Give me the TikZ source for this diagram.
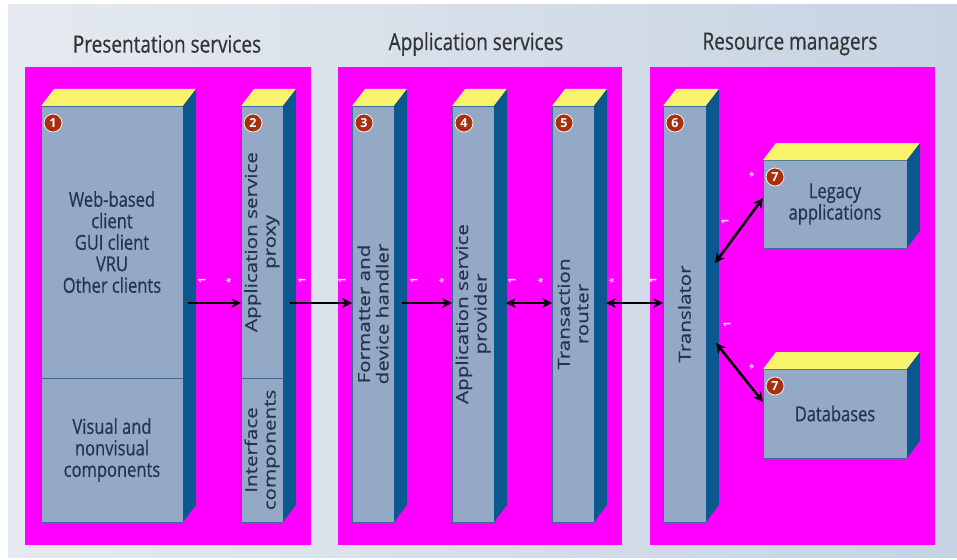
\documentclass[tikz,border=0pt]{standalone}
\usepackage{fontspec}
\setmainfont{Open Sans}
\newfontfamily\heavyfont{Open Sans}[FakeBold=0.5]
\usetikzlibrary{arrows.meta}
\usetikzlibrary{calc}
\usetikzlibrary{positioning}

\definecolor{panelpink}{HTML}{FF00FF}
\definecolor{faceblue}{HTML}{93A9C6}
\definecolor{sideblue}{HTML}{0B5891}
\definecolor{edgeblue}{HTML}{3B6A98}
\definecolor{topyellow}{HTML}{F7F46C}
\definecolor{badgered}{HTML}{A8300E}
\definecolor{labelgray}{HTML}{333333}
\definecolor{textslate}{HTML}{24344C}
\definecolor{multwhite}{HTML}{FFE6FF}
\definecolor{bgleft}{HTML}{E5EAF0}
\definecolor{bgright}{HTML}{C6D3E2}

\tikzset{
  face/.style={draw=edgeblue, fill=faceblue, line width=0.8pt, inner sep=0pt, outer sep=0pt, anchor=north west},
  topface/.style={fill=topyellow},
  sideface/.style={fill=sideblue},
  header/.style={text=labelgray, font=\heavyfont\fontsize{19}{22}\selectfont, yscale=1.25},
  boxtext/.style={text=textslate, align=center, font=\heavyfont\fontsize{16.5}{17.2}\selectfont, yscale=1.25},
  vtext/.style={text=textslate, align=center, font=\heavyfont\fontsize{16.5}{18.5}\selectfont, rotate=90, xscale=1.25},
  badge/.style={circle, fill=badgered, draw=white, line width=0.7pt, text=white, inner sep=0pt, minimum size=18pt, font=\bfseries\fontsize{12.5}{12.5}\selectfont},
  link/.style={line width=2.6pt, -{Stealth[length=10pt,width=10pt]}},
  twoway/.style={line width=2.6pt, {Stealth[length=10pt,width=10pt]}-{Stealth[length=10pt,width=10pt]}},
  mult/.style={text=multwhite, font=\bfseries\fontsize{10}{10}\selectfont, rotate=90, inner sep=0pt},
}

% top and side of a box whose front is #1 (upper part) and #2 (lower part)
\newcommand{\prism}[2]{%
  \fill[topface] (#1.north west) -- ++(13,-17) -- ($(#1.north east)+(13,-17)$) -- (#1.north east) -- cycle;
  \fill[sideface] (#1.north east) -- ($(#1.north east)+(13,-17)$) -- ($(#2.south east)+(13,-17)$) -- (#2.south east) -- cycle;
}

\begin{document}
\begin{tikzpicture}[x=1pt, y=-1pt]
    \useasboundingbox (0,0) rectangle (957,559);
    \fill[white] (0,0) rectangle (957,559);
    \shade[left color=bgleft, right color=bgright] (8,5) rectangle (957,557);

    % tier titles
    \node[header] (h1) at (167,44) {Presentation services};
    \node[header] (h2) at (476,44) {Application services};
    \node[header] (h3) at (790,44) {Resource managers};

    % tiers
    \fill[panelpink] (25,67) rectangle (311,545);
    \fill[panelpink] (338,67) rectangle (622,545);
    \fill[panelpink] (650,67) rectangle (935,545);

    % front faces
    \node[face, minimum width=142, minimum height=272] (c1u) at (41,106) {};
    \node[face, minimum width=142, minimum height=144] (c1l) at (41,378) {};
    \node[face, minimum width=42, minimum height=272] (c2u) at (241,106) {};
    \node[face, minimum width=42, minimum height=144] (c2l) at (241,378) {};
    \node[face, minimum width=42, minimum height=416] (c3) at (352,106) {};
    \node[face, minimum width=42, minimum height=416] (c4) at (452,106) {};
    \node[face, minimum width=42, minimum height=416] (c5) at (552,106) {};
    \node[face, minimum width=43, minimum height=416] (c6) at (663,106) {};
    \node[face, minimum width=144, minimum height=88] (leg) at (763,160) {};
    \node[face, minimum width=144, minimum height=89] (db) at (763,369) {};

    \prism{c1u}{c1l}
    \prism{c2u}{c2l}
    \prism{c3}{c3}
    \prism{c4}{c4}
    \prism{c5}{c5}
    \prism{c6}{c6}
    \prism{leg}{leg}
    \prism{db}{db}

    % box texts
    \node[boxtext] (t1) at (c1u) {Web-based\\client\\GUI client\\VRU\\Other clients};
    \node[boxtext] (t1b) at (c1l) {Visual and\\nonvisual\\components};
    \node[vtext] (t2) at (c2u) {Application service\\proxy};
    \node[vtext] (t2b) at (c2l) {Interface\\components};
    \node[vtext] (t3) at (c3) {Formatter and\\device handler};
    \node[vtext] (t4) at (c4) {Application service\\provider};
    \node[vtext] (t5) at (c5) {Transaction\\router};
    \node[vtext] (t6) at (c6) {Translator};
    \node[boxtext] (t7a) at (leg) {Legacy\\applications};
    \node[boxtext] (t7b) at (db) {Databases};

    % numbers
    \foreach \b/\n in {c1u/1, c2u/2, c3/3, c4/4, c5/5, c6/6, leg/7, db/7}
        \node[badge] (badge-\b) at ($(\b.north west)+(12,17)$) {\n};

    % connectors
    \coordinate (row) at (0,303);
    \draw[link] ($(c1u.east |- row)+(5,0)$) -- (c2u.west |- row);
    \draw[link] ($(c2u.east |- row)+(7,0)$) -- (c3.west |- row);
    \draw[link] ($(c3.east |- row)+(8,0)$) -- (c4.west |- row);
    \draw[twoway] ($(c4.east |- row)+(12,0)$) -- (c5.west |- row);
    \draw[twoway] ($(c5.east |- row)+(12,0)$) -- (c6.west |- row);
    \draw[twoway] ($(c6.north east)+(9,157)$) -- ([yshift=6pt]leg.west);
    \draw[twoway] ($(c6.north east)+(10,237)$) -- ([yshift=11.5pt]db.west);

    % multiplicities
    \foreach \x/\y/\t [count=\i] in {202/281/1, 230/281/*, 302/281/1, 342/281/1,
        414/281/1, 443/281/*, 512/281/1, 542/281/*, 613/281/*, 653/281/1,
        725/222/1, 753/175/*, 727/325/1, 753/367/*}
        \node[mult] (m\i) at (\x,\y) {\t};
\end{tikzpicture}
\end{document}
